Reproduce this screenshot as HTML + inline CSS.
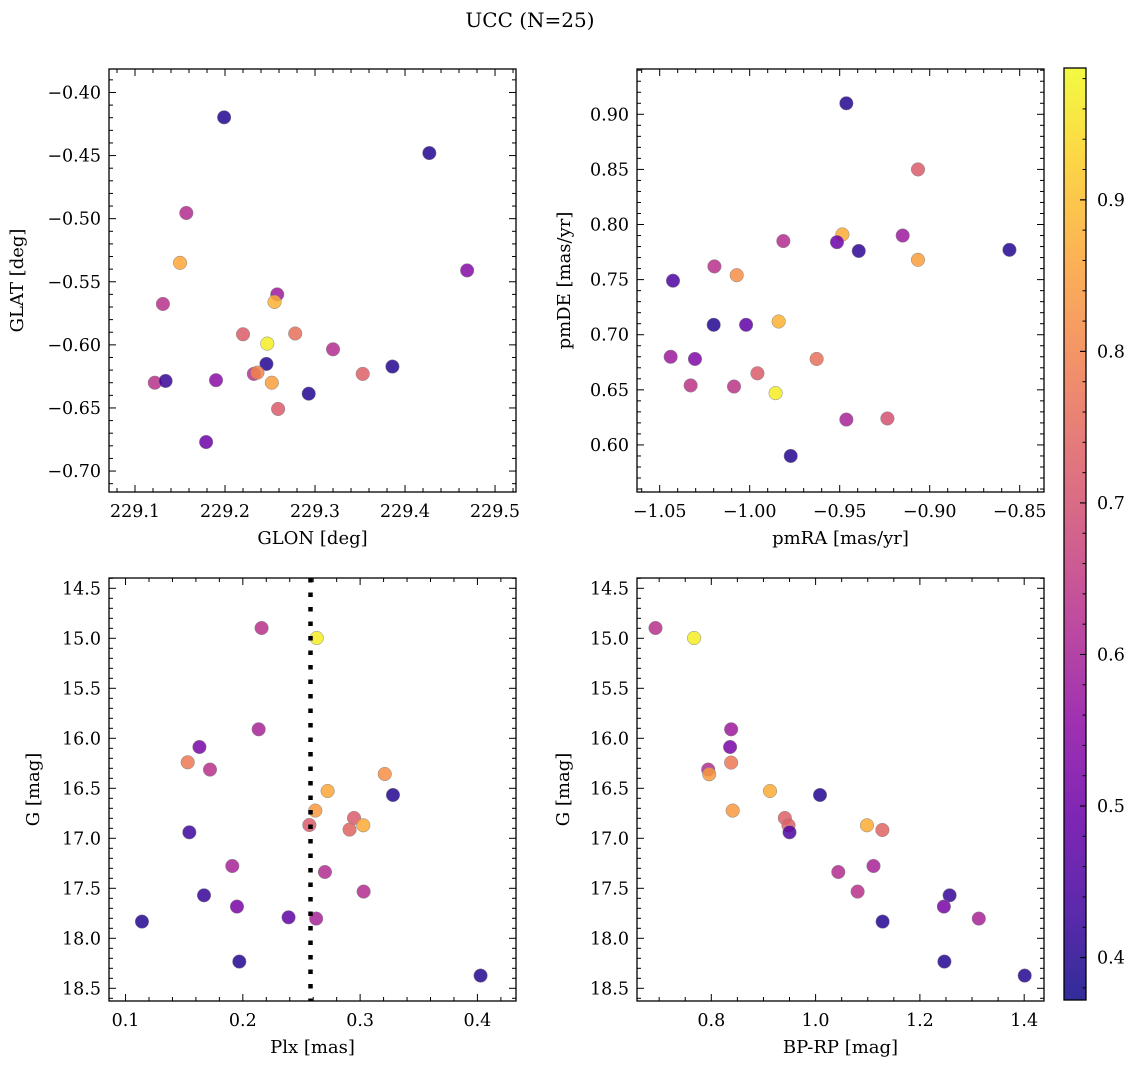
<!DOCTYPE html>
<html><head><meta charset="utf-8">
<style>
body{margin:0;background:#fff;}
svg text{font-family:"DejaVu Serif","Liberation Serif",serif;fill:#000;}
</style></head>
<body>
<svg id="fig" width="1136" height="1068" viewBox="0 0 1136 1068" xmlns="http://www.w3.org/2000/svg">
<text x="530" y="27" font-size="20" text-anchor="middle">UCC (N=25)</text>
</svg>
<script>
// ---- data ----
const glon=[229.199,229.427,229.157,229.469,229.150,229.131,229.258,229.255,229.220,229.278,229.247,229.320,229.246,229.386,229.353,229.232,229.236,229.122,229.134,229.190,229.252,229.293,229.259,229.179];
const glat=[-0.4197,-0.448,-0.4955,-0.541,-0.535,-0.5676,-0.560,-0.566,-0.5916,-0.591,-0.599,-0.6035,-0.6151,-0.6172,-0.623,-0.623,-0.622,-0.630,-0.6286,-0.628,-0.630,-0.6387,-0.6508,-0.677];
const probTL=[0.40,0.40,0.62,0.54,0.86,0.63,0.58,0.88,0.72,0.76,0.97,0.62,0.40,0.40,0.73,0.63,0.80,0.63,0.42,0.55,0.85,0.40,0.72,0.50];
const pmra=[-0.9463,-0.9065,-0.9485,-0.9515,-0.9813,-0.915,-0.9394,-0.8557,-0.9065,-1.0196,-1.0072,-1.0426,-1.02,-1.002,-0.9839,-1.0439,-1.0304,-0.9628,-1.0328,-1.0087,-0.9957,-0.9856,-0.9463,-0.9235,-0.9772];
const pmde=[0.910,0.850,0.791,0.784,0.785,0.790,0.776,0.777,0.768,0.762,0.754,0.749,0.709,0.709,0.712,0.680,0.678,0.678,0.654,0.653,0.665,0.647,0.623,0.624,0.590];
const probTR=[0.40,0.72,0.87,0.50,0.62,0.58,0.41,0.40,0.85,0.63,0.82,0.45,0.40,0.48,0.88,0.58,0.53,0.76,0.64,0.64,0.72,0.97,0.60,0.70,0.40];
const plx=[0.216,0.263,0.2135,0.163,0.153,0.172,0.321,0.2723,0.328,0.2618,0.2948,0.3027,0.2567,0.291,0.1544,0.191,0.270,0.303,0.1669,0.195,0.239,0.2625,0.114,0.197,0.4027];
const gmagBL=[14.897,14.997,15.91,16.087,16.24,16.313,16.357,16.527,16.567,16.723,16.797,16.87,16.867,16.913,16.94,17.277,17.337,17.533,17.57,17.683,17.79,17.803,17.833,18.233,18.373];
const probBL=[0.63,0.97,0.60,0.52,0.78,0.63,0.82,0.86,0.40,0.84,0.72,0.87,0.72,0.74,0.43,0.60,0.62,0.62,0.42,0.52,0.48,0.60,0.40,0.40,0.40];
const bprp=[0.693,0.767,0.838,0.836,0.838,0.794,0.796,0.9125,1.0084,0.841,0.941,0.948,0.950,1.0985,1.128,1.111,1.0435,1.0806,1.257,1.246,1.313,1.1285,1.247,1.401];
const gmagBR=[14.897,14.997,15.91,16.087,16.243,16.313,16.36,16.527,16.567,16.723,16.797,16.87,16.94,16.87,16.917,17.277,17.337,17.533,17.57,17.683,17.803,17.833,18.233,18.373];
const probBR=[0.63,0.97,0.58,0.52,0.78,0.62,0.84,0.87,0.40,0.84,0.73,0.73,0.45,0.87,0.74,0.60,0.62,0.63,0.42,0.52,0.60,0.40,0.40,0.40];
const plxCut=[0.2577];
const cbTicks=[0.4,0.5,0.6,0.7,0.8,0.9];
const cMin=0.372, cMax=0.987;

const NS="http://www.w3.org/2000/svg";
const svg=document.getElementById('fig');
function mk(tag,attrs,parent){const e=document.createElementNS(NS,tag);for(const k in attrs)e.setAttribute(k,attrs[k]);(parent||svg).appendChild(e);return e;}
const stops=[[13,8,135],[65,4,157],[106,0,168],[143,13,164],[177,42,144],[204,71,120],[225,100,98],[242,132,75],[252,166,54],[252,206,37],[240,249,33]];
function plasma(t){t=Math.max(0,Math.min(1,t));const f=t*10,i=Math.min(9,Math.floor(f)),r=f-i;const a=stops[i],b=stops[i+1];return 'rgb('+a.map((v,k)=>Math.round(v+(b[k]-v)*r)).join(',')+')';}
function cmap(v){return plasma((v-cMin)/(cMax-cMin));}
function fmt(v,d){const s=Math.abs(v).toFixed(d);return (v<-1e-9?'\u2212':'')+s;}

function panel(o){
  const g=mk('g',{});
  
  
  const sx=v=>o.L+(v-o.x0)/(o.x1-o.x0)*(o.R-o.L);
  const sy=v=>o.invert? o.T+(v-o.y0)/(o.y1-o.y0)*(o.B-o.T) : o.B-(v-o.y0)/(o.y1-o.y0)*(o.B-o.T);
  const pg=mk('g',{},g);
  o.xs.forEach((xv,i)=>{
    const c=mk('circle',{cx:sx(xv),cy:sy(o.ys[i]),r:6.8,fill:cmap(o.cs[i]),'fill-opacity':0.85,stroke:'#888','stroke-width':0.5},pg);
    
    
  });
  if(o.vline){o.vline.forEach(v=>{const l=mk('line',{x1:sx(v),x2:sx(v),y1:o.T,y2:o.B,stroke:'#000','stroke-width':4.5,'stroke-dasharray':'4.5 10'},g);
    
    });}
  const tg=mk('g',{stroke:'#000','stroke-width':1},g);
  const eps=1e-9;
  const mn=Math.min(o.x0,o.x1),mx=Math.max(o.x0,o.x1);
  for(let k=Math.ceil(mn/o.xm-eps);k*o.xm<=mx+eps;k++){const v=k*o.xm,x=sx(v);const major=Math.abs(v/o.xM-Math.round(v/o.xM))<1e-6;const len=major?7:4;
    mk('line',{x1:x,x2:x,y1:o.B,y2:o.B-len},tg);mk('line',{x1:x,x2:x,y1:o.T,y2:o.T+len},tg);
    if(major){const t=mk('text',{x:x,y:o.B+25,'font-size':17.5,'text-anchor':'middle',stroke:'none'},g);t.textContent=fmt(v,o.xd);
      
      }}
  const ymn=Math.min(o.y0,o.y1),ymx=Math.max(o.y0,o.y1);
  for(let k=Math.ceil(ymn/o.ym-eps);k*o.ym<=ymx+eps;k++){const v=k*o.ym,y=sy(v);const major=Math.abs(v/o.yM-Math.round(v/o.yM))<1e-6;const len=major?7:4;
    mk('line',{x1:o.L,x2:o.L+len,y1:y,y2:y},tg);mk('line',{x1:o.R,x2:o.R-len,y1:y,y2:y},tg);
    if(major){const t=mk('text',{x:o.L-8,y:y+6,'font-size':17.5,'text-anchor':'end',stroke:'none'},g);t.textContent=fmt(v,o.yd);
      
      }}
  const fr=mk('rect',{x:o.L,y:o.T,width:o.R-o.L,height:o.B-o.T,fill:'none',stroke:'#000','stroke-width':1.3},g);
  
  
  const xl=mk('text',{x:(o.L+o.R)/2,y:o.B+52,'font-size':18,'text-anchor':'middle'},g);xl.textContent=o.xlab;
  
  
  const yx=o.ylx,yy=(o.T+o.B)/2;
  const yl=mk('text',{x:yx,y:yy,'font-size':18,'text-anchor':'middle',transform:'rotate(-90 '+yx+' '+yy+')'},g);yl.textContent=o.ylab;
  
  
}

panel({name:'glon-glat-panel',L:109,R:516,T:69,B:492,x0:229.0711,x1:229.5233,y0:-0.7166,y1:-0.3814,xm:0.02,xM:0.1,ym:0.01,yM:0.05,xd:1,yd:2,xs:glon,ys:glat,cs:probTL,xlab:'GLON [deg]',ylab:'GLAT [deg]',ylx:23});
panel({name:'pm-panel',L:637,R:1044,T:69,B:492,x0:-1.0626,x1:-0.8365,y0:0.5573,y1:0.9411,xm:0.01,xM:0.05,ym:0.01,yM:0.05,xd:2,yd:2,xs:pmra,ys:pmde,cs:probTR,xlab:'pmRA [mas/yr]',ylab:'pmDE [mas/yr]',ylx:570});
panel({name:'plx-g-panel',L:109,R:516,T:578,B:1001,x0:0.0859,x1:0.4329,y0:14.397,y1:18.627,invert:true,xm:0.02,xM:0.1,ym:0.1,yM:0.5,xd:1,yd:1,xs:plx,ys:gmagBL,cs:probBL,xlab:'Plx [mas]',ylab:'G [mag]',ylx:39,vline:plxCut});
panel({name:'cmd-panel',L:637,R:1044,T:578,B:1001,x0:0.6575,x1:1.438,y0:14.397,y1:18.627,invert:true,xm:0.05,xM:0.2,ym:0.1,yM:0.5,xd:1,yd:1,xs:bprp,ys:gmagBR,cs:probBR,xlab:'BP-RP [mag]',ylab:'G [mag]',ylx:569});

(function(){
  const L=1064,R=1086,T=68,B=1000;
  const cg=mk('g',{});
  
  
  const defs=mk('defs',{},cg);
  const lg=mk('linearGradient',{id:'cbg',x1:0,y1:1,x2:0,y2:0},defs);
  for(let i=0;i<=20;i++){mk('stop',{offset:i/20,'stop-color':plasma(i/20)},lg);}
  mk('rect',{x:L,y:T,width:R-L,height:B-T,fill:'url(#cbg)','fill-opacity':0.85},cg);
  const sy=v=>B-(v-cMin)/(cMax-cMin)*(B-T);
  for(let v=0.38;v<cMax;v+=0.02){const y=sy(v);const major=Math.abs(v*10-Math.round(v*10))<1e-6;
    mk('line',{x1:R,x2:R-(major?6:3.5),y1:y,y2:y,stroke:'#000','stroke-width':1},cg);}
  cbTicks.forEach(v=>{const y=sy(v);mk('line',{x1:R,x2:R-6,y1:y,y2:y,stroke:'#000','stroke-width':1},cg);
    const t=mk('text',{x:R+11,y:y+6,'font-size':17.5},cg);t.textContent=v.toFixed(1);
    
    });
  mk('rect',{x:L,y:T,width:R-L,height:B-T,fill:'none',stroke:'#000','stroke-width':1.3},cg);
})();
</script>
</body></html>
